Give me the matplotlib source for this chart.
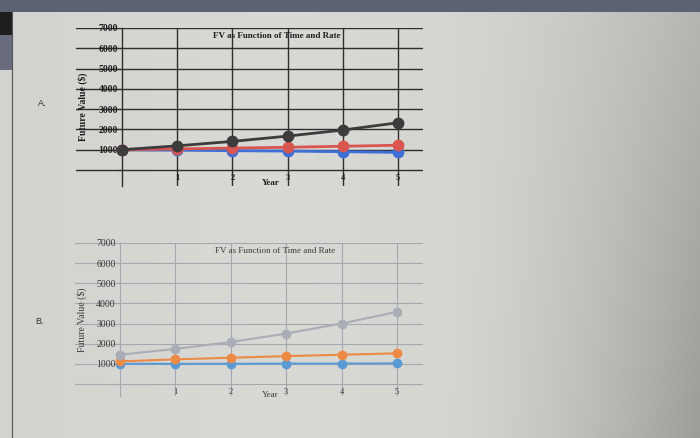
import numpy as np
import matplotlib
matplotlib.use("Agg")
import matplotlib.pyplot as plt
from matplotlib.patches import Rectangle

years = [0, 1, 2, 3, 4, 5]
y_ticks = [1000, 2000, 3000, 4000, 5000, 6000, 7000]
x_ticks = [1, 2, 3, 4, 5]
title = "FV as Function of Time and Rate"

# Chart A values
a_low = [1000, 980, 950, 930, 900, 870]
a_mid = [1000, 1040, 1080, 1120, 1170, 1220]
a_high = [1000, 1190, 1410, 1670, 1970, 2330]

# Chart B values
b_low = [1000, 1000, 1000, 1010, 1010, 1020]
b_mid = [1120, 1220, 1300, 1380, 1450, 1520]
b_high = [1450, 1740, 2080, 2500, 3000, 3580]

plt.rcParams['font.family'] = ['Liberation Serif', 'DejaVu Serif']

fig = plt.figure(figsize=(7, 4.38), dpi=100)
fig.patch.set_facecolor('#d3d3cf')

# photographed-screen background shading
bg = fig.add_axes([0, 0, 1, 1], zorder=-10)
xx = np.linspace(0, 1, 300)
yy = np.linspace(0, 1, 200)
X, Y = np.meshgrid(xx, yy)
shade = (0.85 - 0.03 * np.abs(X - 0.4) * 2
         - (0.10 + 0.10 * Y) * np.clip((X - 0.62) / 0.38, 0, 1) ** 1.6)
img = np.dstack([shade, shade, shade * 0.985])
bg.imshow(img, extent=[0, 1, 0, 1], aspect='auto', origin='upper')
bg.set_xlim(0, 1)
bg.set_ylim(0, 1)
bg.axis('off')
fig.patches.append(Rectangle((0, 1 - 12 / 438), 1, 12 / 438, transform=fig.transFigure,
                             facecolor='#5c6272', edgecolor='none', zorder=-5))
fig.patches.append(Rectangle((0, 1 - 35 / 438), 12 / 700, 23 / 438, transform=fig.transFigure,
                             facecolor='#1e1e1e', edgecolor='none', zorder=-5))
fig.patches.append(Rectangle((0, 1 - 70 / 438), 12 / 700, 35 / 438, transform=fig.transFigure,
                             facecolor='#686c7c', edgecolor='none', zorder=-5))
fig.add_artist(plt.Line2D([12 / 700, 12 / 700], [0, 1 - 12 / 438], transform=fig.transFigure,
                          color='#555555', lw=0.8))


def make_axes(rect, xlim, ylim, grid_color, grid_lw, text_color, bold):
    ax = fig.add_axes(rect)
    ax.set_facecolor('none')
    ax.set_xlim(*xlim)
    ax.set_ylim(*ylim)
    for s in ['top', 'right', 'bottom']:
        ax.spines[s].set_visible(False)
    ax.spines['left'].set_position(('data', 0))
    ax.spines['left'].set_color(grid_color)
    ax.spines['left'].set_linewidth(grid_lw)
    ax.spines['bottom'].set_position(('data', 0))
    ax.set_yticks([0] + y_ticks)
    ax.set_yticklabels([''] + [str(v) for v in y_ticks])
    ax.set_xticks(x_ticks)
    ax.set_xticklabels([str(v) for v in x_ticks])
    ax.grid(True, color=grid_color, lw=grid_lw)
    ax.set_axisbelow(True)
    w = 'bold' if bold else 'normal'
    ax.tick_params(axis='y', length=4, width=0.8, color=grid_color, pad=-1,
                   labelsize=7, labelcolor=text_color)
    ax.tick_params(axis='x', length=0, pad=3, labelsize=6, labelcolor=text_color)
    for lab in ax.get_yticklabels() + ax.get_xticklabels():
        lab.set_fontweight(w)
    ax.set_ylabel("Future Value ($)", fontsize=7, color=text_color, fontweight=w)
    ax.yaxis.set_label_coords(0.035, 0.5)
    ax.set_xlabel("Year", fontsize=6.5, color=text_color, fontweight=w)
    ax.text(2.8, 6600, title, ha='center', va='center', fontsize=6.5,
            color=text_color, fontweight=w)
    return ax


# Chart A
axA = make_axes([76 / 700, 1 - 186 / 438, 347 / 700, 158 / 438], (-0.833, 5.45), (-790, 7000),
                '#2e2e2e', 1.0, '#1e1e1e', True)
axA.xaxis.set_label_coords(0.56, 0.045)
axA.plot(years, a_low, color='#3d6fd6', lw=2, marker='o', ms=7.5, zorder=3)
axA.plot(years, a_mid, color='#d95550', lw=2, marker='o', ms=7.5, zorder=3)
axA.plot(years, a_high, color='#3c3c3c', lw=2, marker='o', ms=7.5, zorder=4)

# Chart B
axB = make_axes([75 / 700, 1 - 396 / 438, 348 / 700, 153 / 438], (-0.81, 5.47), (-600, 7000),
                '#a6a8b0', 0.8, '#3a3a3a', False)
axB.xaxis.set_label_coords(0.56, 0.03)
axB.plot(years, b_low, color='#5b9bd5', lw=1.5, marker='o', ms=6, zorder=3)
axB.plot(years, b_mid, color='#ed8a45', lw=1.5, marker='o', ms=6, zorder=3)
axB.plot(years, b_high, color='#a9adb5', lw=1.5, marker='o', ms=6, zorder=4)

fig.text(38 / 700, 1 - 103 / 438, "A.", fontsize=6.5, color='#333333', ha='left', va='center',
         family=['Liberation Sans', 'DejaVu Sans'])
fig.text(35 / 700, 1 - 322 / 438, "B.", fontsize=6.5, color='#333333', ha='left', va='center',
         family=['Liberation Sans', 'DejaVu Sans'])

fig.savefig("out.png", dpi=100, facecolor=fig.get_facecolor())
